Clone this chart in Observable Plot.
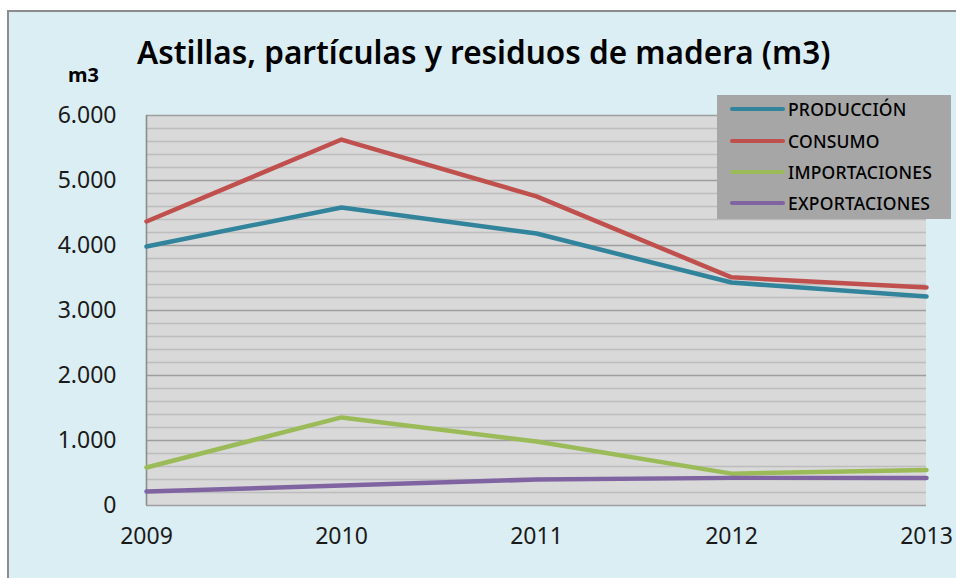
<!DOCTYPE html>
<html>
<head>
<meta charset="utf-8">
<script src="https://cdn.jsdelivr.net/npm/d3@7"></script>
<script src="https://cdn.jsdelivr.net/npm/@observablehq/plot@0.6"></script>
<style>
  html, body { margin: 0; padding: 0; background: #ffffff; }
  #wrap { position: relative; width: 956px; height: 578px; overflow: hidden; font-family: "Noto Sans", sans-serif; }
  #panel { position: absolute; left: 7px; top: 10px; width: 960px; height: 580px; background: #DBEEF4; border-left: 2px solid #8c8c8c; border-top: 2px solid #8c8c8c; }
  #title { position: absolute; left: 137px; top: 30px; font-size: 31.5px; font-weight: 600; color: #000; white-space: nowrap; }
  #unit { position: absolute; left: 68px; top: 61px; font-size: 20px; font-weight: 700; color: #000; }
  #chart { position: absolute; left: 0; top: 0; }
  #legend { position: absolute; left: 717px; top: 95px; width: 234px; height: 124px; background: #A6A6A6; }
  .item { position: absolute; left: 0; height: 20px; display: flex; align-items: center; }
  .swatch { width: 55px; height: 4px; border-radius: 2px; margin-left: 13px; margin-right: 3px; }
  .lab { font-size: 17.5px; font-weight: 500; color: #000; white-space: nowrap; letter-spacing: 0.2px; }
</style>
</head>
<body>
<div id="wrap">
  <div id="panel"></div>
  <div id="chart"></div>
  <div id="unit">m3</div>
  <div id="title">Astillas, partículas y residuos de madera (m3)</div>
  <div id="legend"></div>
</div>
<script>
const years = [2009, 2010, 2011, 2012, 2013];
const seriesNames = ["PRODUCCIÓN", "CONSUMO", "IMPORTACIONES", "EXPORTACIONES"];
const produccion = [3985, 4585, 4185, 3430, 3215];
const consumo = [4370, 5630, 4755, 3510, 3355];
const importaciones = [585, 1355, 985, 490, 545];
const exportaciones = [215, 308, 400, 425, 425];
const colors = ["#31849B", "#C0504D", "#9BBB59", "#8064A2"];
const yTicks = [0, 1000, 2000, 3000, 4000, 5000, 6000];
const yMinor = d3.range(200, 6000, 200).filter(v => v % 1000 !== 0);

const seriesValues = [produccion, consumo, importaciones, exportaciones];
const data = [];
seriesNames.forEach((name, i) => {
  years.forEach((yr, j) => data.push({series: name, year: yr, value: seriesValues[i][j]}));
});

const fmt = d3.formatLocale({decimal: ",", thousands: ".", grouping: [3], currency: ["", ""]}).format(",");

const chart = Plot.plot({
  width: 956,
  height: 578,
  marginLeft: 146,
  marginRight: 30,
  marginTop: 115,
  marginBottom: 73,
  style: {background: "transparent", fontFamily: "Noto Sans, sans-serif", fontSize: "23px", color: "#1a1a1a", overflow: "visible"},
  x: {domain: [2009, 2013], ticks: years, tickFormat: d => String(d), label: null, tickSize: 0, tickPadding: 22},
  y: {domain: [0, 6000], ticks: yTicks, tickFormat: fmt, label: null, tickSize: 0, tickPadding: 30},
  color: {domain: seriesNames, range: colors},
  marks: [
    Plot.rect([0], {x1: 2009, x2: 2013, y1: 0, y2: 6000, fill: "#D9D9D9"}),
    Plot.ruleY(yMinor, {x1: 2009, x2: 2013, stroke: "#BDBDBD", strokeWidth: 1.3}),
    Plot.ruleY(yTicks, {x1: 2009, x2: 2013, stroke: "#9E9E9E", strokeWidth: 1.6}),
    Plot.ruleX([2009], {y1: 0, y2: 6000, stroke: "#8c8c8c", strokeWidth: 1.6}),
    Plot.axisX({ticks: years, tickFormat: d => String(d), tickSize: 0, tickPadding: 22, fontSize: 23, fill: "#1a1a1a"}),
    Plot.axisY({ticks: yTicks, tickFormat: fmt, tickSize: 0, tickPadding: 30, fontSize: 23, fill: "#1a1a1a"}),
    Plot.line(data, {x: "year", y: "value", z: "series", stroke: "series", strokeWidth: 4.5, strokeLinejoin: "round", strokeLinecap: "round"})
  ]
});
document.getElementById("chart").appendChild(chart);

const legend = document.getElementById("legend");
const rowY = [109, 141, 172, 203];
seriesNames.forEach((name, i) => {
  const item = document.createElement("div");
  item.className = "item";
  item.style.top = (rowY[i] - 95 - 10) + "px";
  const sw = document.createElement("div");
  sw.className = "swatch";
  sw.style.background = colors[i];
  const lab = document.createElement("div");
  lab.className = "lab";
  lab.textContent = name;
  item.appendChild(sw);
  item.appendChild(lab);
  legend.appendChild(item);
});
</script>
</body>
</html>
